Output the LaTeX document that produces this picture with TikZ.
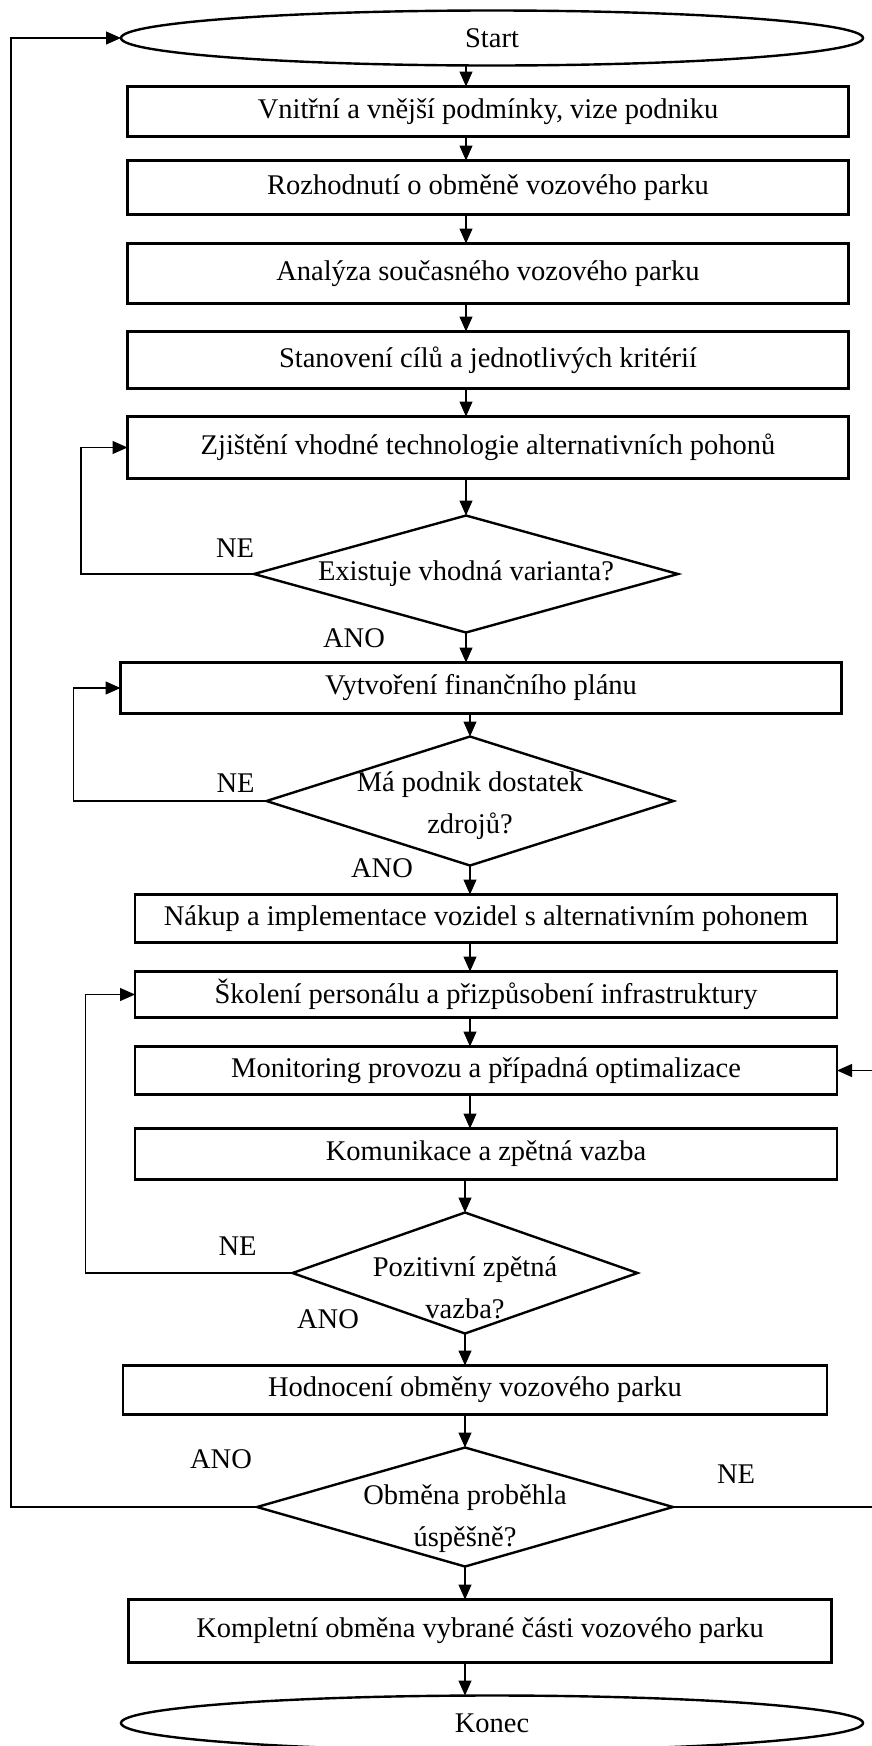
\documentclass[tikz,border=0pt]{standalone}
\usepackage{fontspec}
\setmainfont{Liberation Serif}
\usetikzlibrary{positioning,shapes.geometric,arrows.meta}

\begin{document}
\begin{tikzpicture}[
  x=1pt,y=1pt,
  font=\fontsize{28.5}{42}\selectfont,
  box/.style={rectangle,draw,line width=2.4pt,outer sep=0pt,minimum width=721pt,inner sep=2pt},
  term/.style={ellipse,draw,line width=2.4pt,outer sep=0pt,minimum width=742pt,minimum height=55pt},
  cond/.style={diamond,draw,line width=2.4pt,outer sep=0pt,inner xsep=-6pt,inner ysep=-22pt,align=center},
  arr/.style={draw,line width=1.2pt,-{Triangle[length=15pt,width=13pt]}},
  lbl/.style={inner sep=0pt}
]
  \useasboundingbox (0,0) rectangle (871,-1746);

  \node[term] (start) at (492,-38) {Start};
  \node[box,minimum height=50pt,below=21pt of start,xshift=-4pt] (b1) {Vnitřní a vnější podmínky, vize podniku};
  \node[box,minimum height=54pt,below=24pt of b1] (b2) {Rozhodnutí o obměně vozového parku};
  \node[box,minimum height=60pt,below=29pt of b2] (b3) {Analýza současného vozového parku};
  \node[box,minimum height=57pt,below=28pt of b3] (b4) {Stanovení cílů a jednotlivých kritérií};
  \node[box,minimum height=62pt,below=28pt of b4] (b5) {Zjištění vhodné technologie alternativních pohonů};
  \node[cond,aspect=3.6,minimum width=424pt,minimum height=117pt,below=37pt of b5,xshift=-22pt] (d1) {Existuje vhodná varianta?};
  \node[box,minimum height=51pt,below=30pt of d1,xshift=15pt] (b6) {Vytvoření finančního plánu};
  \node[cond,aspect=3.15,minimum width=407pt,minimum height=129pt,below=23pt of b6,xshift=-11pt] (d2) {\rule{0pt}{30pt}Má podnik dostatek\\zdrojů?};
  \node[box,minimum width=702pt,minimum height=48pt,below=29pt of d2,xshift=16pt] (b7) {Nákup a implementace vozidel s alternativním pohonem};
  \node[box,minimum width=702pt,minimum height=46pt,below=29pt of b7] (b8) {Školení personálu a přizpůsobení infrastruktury};
  \node[box,minimum width=702pt,minimum height=48pt,below=29pt of b8] (b9) {Monitoring provozu a případná optimalizace};
  \node[box,minimum width=702pt,minimum height=51pt,below=34pt of b9] (b10) {Komunikace a zpětná vazba};
  \node[cond,aspect=2.85,minimum width=345pt,minimum height=121pt,below=33pt of b10,xshift=-21pt] (d3) {\rule{0pt}{50pt}Pozitivní zpětná\\vazba?};
  \node[box,minimum width=704pt,minimum height=49pt,below=32pt of d3,xshift=10pt] (b11) {Hodnocení obměny vozového parku};
  \node[cond,aspect=3.5,minimum width=416pt,minimum height=119pt,below=33pt of b11,xshift=-10pt] (d4) {\rule{0pt}{44pt}Obměna proběhla\\úspěšně?};
  \node[box,minimum width=703pt,minimum height=63pt,below=33pt of d4,xshift=15pt] (b12) {Kompletní obměna vybrané části vozového parku};
  \node[term,below=33pt of b12,xshift=12pt] (konec) {Konec};

  % answers at the decisions
  \node[lbl] (ne1) at ([shift={(-19,26)}]d1.west) {NE};
  \node[lbl] (ano1) at ([shift={(-112,-6)}]d1.south) {ANO};
  \node[lbl] (ne2) at ([shift={(-31,18)}]d2.west) {NE};
  \node[lbl] (ano2) at ([shift={(-88,-3)}]d2.south) {ANO};
  \node[lbl] (ne3) at ([shift={(-55,27)}]d3.west) {NE};
  \node[lbl] (ano3) at ([shift={(-137,14)}]d3.south) {ANO};
  \node[lbl] (ano4) at ([shift={(-36,48)}]d4.west) {ANO};
  \node[lbl] (ne4) at ([shift={(63,33)}]d4.east) {NE};

  % main flow
  \draw[arr] (start.south -| d1) -- (b1.north -| d1);
  \draw[arr] (b1.south -| d1) -- (b2.north -| d1);
  \draw[arr] (b2.south -| d1) -- (b3.north -| d1);
  \draw[arr] (b3.south -| d1) -- (b4.north -| d1);
  \draw[arr] (b4.south -| d1) -- (b5.north -| d1);
  \draw[arr] (b5.south -| d1) -- (d1.north);
  \draw[arr] (d1.south) -- (b6.north -| d1);
  \draw[arr] (b6.south -| d2) -- (d2.north);
  \draw[arr] (d2.south) -- (b7.north -| d2);
  \draw[arr] (b7.south -| d2) -- (b8.north -| d2);
  \draw[arr] (b8.south -| d2) -- (b9.north -| d2);
  \draw[arr] (b9.south -| d2) -- (b10.north -| d2);
  \draw[arr] (b10.south -| d3) -- (d3.north);
  \draw[arr] (d3.south) -- (b11.north -| d3);
  \draw[arr] (b11.south -| d4) -- (d4.north);
  \draw[arr] (d4.south) -- (b12.north -| d4);
  \draw[arr] (b12.south -| d4) -- (konec.north -| d4);

  % loops back
  \draw[arr] (d1.west) -- ++(-173,0) |- (b5.west);
  \draw[arr] (d2.west) -- ++(-193,0) |- (b6.west);
  \draw[arr] (d3.west) -- ++(-207,0) |- (b8.west);
  \draw[arr] (d4.west) -- ++(-246,0) |- (start.west);
  \draw[arr] (d4.east) -- ++(215,0) |- (b9.east);
\end{tikzpicture}
\end{document}
